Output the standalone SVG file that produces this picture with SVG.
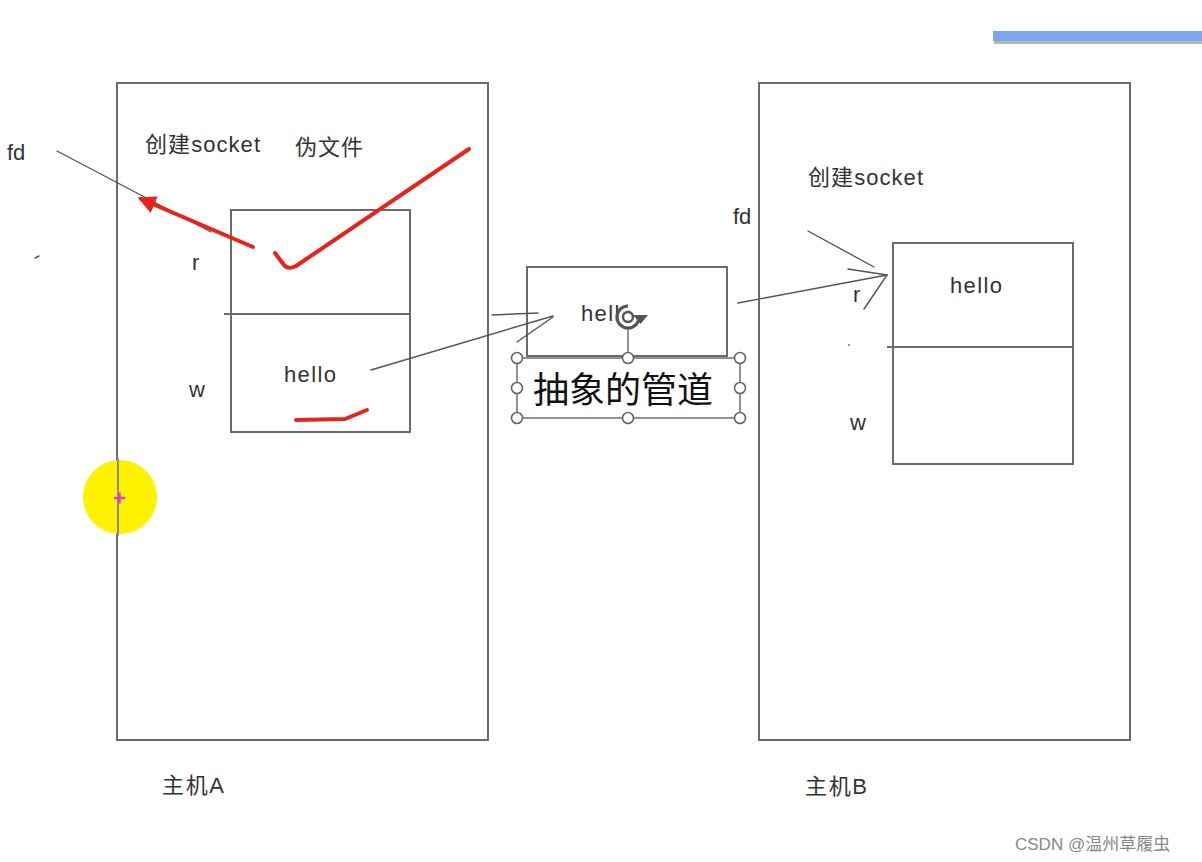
<svg xmlns="http://www.w3.org/2000/svg" width="1202" height="862" viewBox="0 0 1202 862">
<style>
.box{fill:none;stroke:#6b6b6b;stroke-width:2}
.ln{fill:none;stroke:#555;stroke-width:1.4;stroke-linecap:round}
.red{fill:none;stroke:#e8231a;stroke-width:4;stroke-linecap:round;stroke-linejoin:round}
.t{font-family:"Liberation Sans","Noto Sans CJK SC",sans-serif;font-size:22px;fill:#333}
.h{fill:#fff;stroke:#666;stroke-width:1.6}
</style>
<defs>
<marker id="redhead" viewBox="0 0 10 10" refX="8" refY="5" markerWidth="4.5" markerHeight="4.5" orient="auto">
<path d="M0,0 L10,5 L0,10 z" fill="#e8231a"/>
</marker>
</defs>
<rect width="1202" height="862" fill="#fff"/>
<g id="toolbar">
<rect x="994" y="40" width="208" height="4" fill="#b5b5b5"/>
<rect x="993" y="31" width="209" height="10" fill="#7aa7ee"/>
</g>
<g id="hostA">
<rect class="box" x="117" y="83" width="371" height="657"/>
<text class="t" x="162" y="793" textLength="62">主机A</text>
<text class="t" x="145" y="152" textLength="115">创建socket</text>
<text class="t" x="295" y="155" textLength="68">伪文件</text>
<text class="t" x="7" y="160">fd</text>
<text class="t" x="192" y="270">r</text>
<text class="t" x="189" y="397">w</text>
</g>
<g id="socketA">
<rect class="box" x="231" y="210" width="179" height="222"/>
<line class="box" x1="224" y1="314" x2="410" y2="314"/>
<text class="t" x="284" y="382" textLength="52">hello</text>
</g>
<g id="pipe">
<rect class="box" x="527" y="267" width="200" height="89"/>
<text class="t" x="581" y="321" textLength="52">hello</text>
</g>
<g id="pipeLabel">
<rect x="517" y="358" width="223" height="60" fill="none" stroke="#666" stroke-width="1.4"/>
<line x1="628" y1="358" x2="628" y2="328" stroke="#666" stroke-width="1.4"/>
<text x="533" y="403" font-family="'Noto Sans CJK SC',sans-serif" font-size="36" fill="#111">抽象的管道</text>
<circle class="h" cx="517" cy="358" r="5.5"/><circle class="h" cx="628" cy="358" r="5.5"/><circle class="h" cx="740" cy="358" r="5.5"/>
<circle class="h" cx="517" cy="388" r="5.5"/><circle class="h" cx="740" cy="388" r="5.5"/>
<circle class="h" cx="517" cy="388" r="0" fill="none"/>
<circle class="h" cx="517" cy="418" r="5.5"/><circle class="h" cx="628" cy="418" r="5.5"/><circle class="h" cx="740" cy="418" r="5.5"/>
<circle cx="628" cy="317" r="12" fill="#fff" opacity="0.9"/>
<path d="M639,317 A11,11 0 1 1 628,306" fill="none" stroke="#555" stroke-width="3.2"/>
<circle cx="628" cy="317" r="5" fill="none" stroke="#555" stroke-width="2.4"/>
<path d="M633,315 L648,315 L640.5,324 z" fill="#555"/>
</g>
<g id="hostB">
<rect class="box" x="759" y="83" width="371" height="657"/>
<text class="t" x="805" y="794" textLength="62">主机B</text>
<text class="t" x="808" y="185" textLength="115">创建socket</text>
<text class="t" x="733" y="224">fd</text>
<text class="t" x="853" y="302">r</text>
<text class="t" x="850" y="430">w</text>
</g>
<g id="socketB">
<rect class="box" x="893" y="243" width="180" height="221"/>
<line class="box" x1="887" y1="347" x2="1073" y2="347"/>
<text class="t" x="950" y="293" textLength="52">hello</text>
</g>
<g id="connectors">
<line class="ln" x1="57" y1="151" x2="211" y2="232"/>
<line class="ln" x1="371" y1="370" x2="553" y2="316"/>
<line class="ln" x1="517" y1="342" x2="553" y2="317"/>
<line class="ln" x1="492" y1="315" x2="538" y2="313"/>
<line class="ln" x1="738" y1="303" x2="887" y2="275"/>
<line class="ln" x1="848" y1="269" x2="887" y2="275"/>
<line class="ln" x1="864" y1="309" x2="887" y2="275"/>
<line class="ln" x1="808" y1="231" x2="874" y2="267"/>
<line class="ln" x1="35" y1="258" x2="39" y2="256"/>
<circle cx="849" cy="345" r="1" fill="#777"/>
</g>
<g id="annotations">
<line class="red" x1="253" y1="247" x2="141" y2="199" marker-end="url(#redhead)"/>
<path class="red" d="M275,253 L284,265 Q288,270 296,266 L469,149"/>
<path class="red" stroke-width="3" d="M296,420 L345,419 L367,410"/>
<circle cx="120" cy="497" r="37" fill="#fff200"/>
<line x1="118" y1="458" x2="118" y2="536" stroke="#8a8a8a" stroke-width="2"/>
<path d="M114,498 H125 M119.5,492.5 V503.5" stroke="#e040d0" stroke-width="2.5"/>
</g>
<text x="1015" y="850" font-family="'Liberation Sans','Noto Sans CJK SC',sans-serif" font-size="17" fill="#888">CSDN @温州草履虫</text>
</svg>
